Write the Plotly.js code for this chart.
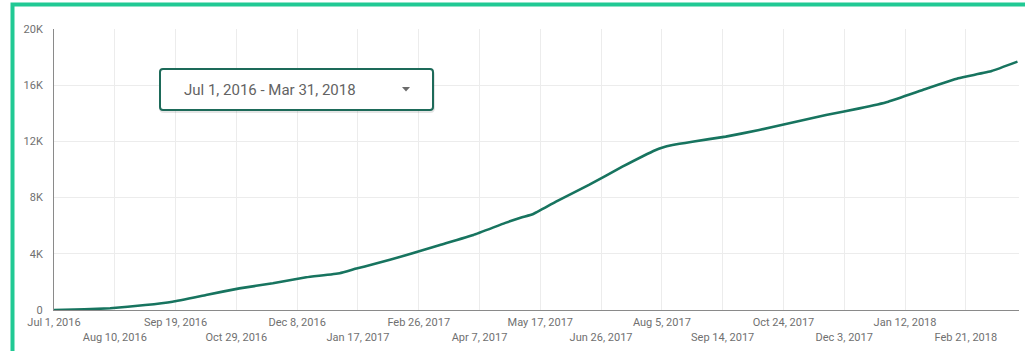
<!DOCTYPE html>
<html>
<head>
<meta charset="utf-8">
<script src="https://cdn.plot.ly/plotly-3.0.1.min.js"></script>
<style>
html,body{margin:0;padding:0;background:#fff;}
#chart{width:1025px;height:351px;}
</style>
</head>
<body>
<div id="chart"></div>
<script>
// ---- data ----
const dates = [
  '2016-07-01','2016-07-21','2016-08-07','2016-08-30','2016-09-17','2016-10-09','2016-10-31',
  '2016-11-22','2016-12-14','2017-01-05','2017-01-16','2017-01-27','2017-02-18','2017-03-12',
  '2017-04-03','2017-04-24','2017-05-05','2017-05-12','2017-05-27','2017-06-18','2017-07-10',
  '2017-08-01','2017-08-05','2017-08-12','2017-08-25','2017-09-16','2017-10-08','2017-10-30',
  '2017-11-21','2017-12-13','2018-01-01','2018-01-25','2018-02-16','2018-03-10','2018-03-27'
];
const users = [
  0, 50, 120, 350, 590, 1070, 1540,
  1900, 2330, 2620, 2950, 3250, 3910, 4630,
  5340, 6200, 6600, 6820, 7700, 8900, 10200,
  11390, 11550, 11740, 11980, 12340, 12810, 13340,
  13880, 14350, 14830, 15710, 16490, 17010, 17680
];
const xTickVals = [
  '2016-07-01','2016-08-10','2016-09-19','2016-10-29','2016-12-08','2017-01-17','2017-02-26',
  '2017-04-07','2017-05-17','2017-06-26','2017-08-05','2017-09-14','2017-10-24','2017-12-03',
  '2018-01-12','2018-02-21'
];
const xTickLabels = [
  'Jul 1, 2016','Aug 10, 2016','Sep 19, 2016','Oct 29, 2016','Dec 8, 2016','Jan 17, 2017','Feb 26, 2017',
  'Apr 7, 2017','May 17, 2017','Jun 26, 2017','Aug 5, 2017','Sep 14, 2017','Oct 24, 2017','Dec 3, 2017',
  'Jan 12, 2018','Feb 21, 2018'
];
const yTickVals = [0, 4000, 8000, 12000, 16000, 20000];
const yTickLabels = ['0','4K','8K','12K','16K','20K'];
const dateRangeLabel = 'Jul 1, 2016 - Mar 31, 2018';

// ---- layout helpers (pixel -> paper) ----
const W = 1025, H = 351;
const M = {l:54, r:6, t:29, b:41};
const PW = W - M.l - M.r, PH = H - M.t - M.b;
const px = x => (x - M.l) / PW;
const py = y => (H - M.b - y) / PH;

function roundRect(x0, y0, x1, y1, r) {
  const X = px, Y = py;
  return `M${X(x0+r)},${Y(y0)} L${X(x1-r)},${Y(y0)} Q${X(x1)},${Y(y0)} ${X(x1)},${Y(y0+r)} ` +
         `L${X(x1)},${Y(y1-r)} Q${X(x1)},${Y(y1)} ${X(x1-r)},${Y(y1)} ` +
         `L${X(x0+r)},${Y(y1)} Q${X(x0)},${Y(y1)} ${X(x0)},${Y(y1-r)} ` +
         `L${X(x0)},${Y(y0+r)} Q${X(x0)},${Y(y0)} ${X(x0+r)},${Y(y0)} Z`;
}

const trace = {
  x: dates, y: users, type: 'scatter', mode: 'lines',
  line: {color: '#17745f', width: 2.6, shape: 'spline', smoothing: 0.3},
  hoverinfo: 'x+y'
};

const tickFont = {family: 'Roboto, Arial, sans-serif', size: 11, color: '#707070'};

const layout = {
  width: W, height: H,
  margin: M,
  paper_bgcolor: '#fff', plot_bgcolor: '#fff',
  showlegend: false,
  font: {family: 'Roboto, Arial, sans-serif'},
  xaxis: {
    type: 'date',
    range: ['2016-07-01', '2018-03-28'],
    tickvals: xTickVals,
    ticktext: xTickLabels.map((t, i) => i % 2 ? '<br>' + t : t),
    tickfont: tickFont, tickangle: 0,
    showgrid: true, gridcolor: '#ececec', gridwidth: 1,
    showline: true, linecolor: '#8a8a8a', linewidth: 1,
    zeroline: false, ticks: '', ticklabelstandoff: 2,
    fixedrange: true
  },
  yaxis: {
    range: [0, 20000],
    tickvals: yTickVals,
    ticktext: yTickLabels,
    tickfont: tickFont,
    showgrid: true, gridcolor: '#ececec', gridwidth: 1,
    showline: true, linecolor: '#8a8a8a', linewidth: 1,
    zeroline: false, ticks: '', ticklabelstandoff: 8,
    fixedrange: true
  },
  shapes: [
    {type: 'rect', xref: 'paper', yref: 'paper', layer: 'above',
     x0: px(12.5), y0: py(H + 20), x1: px(W + 20), y1: py(4.5),
     line: {color: '#21c994', width: 4}, fillcolor: 'rgba(0,0,0,0)'},
    {type: 'path', xref: 'paper', yref: 'paper', layer: 'above',
     path: roundRect(159, 70, 435, 113, 5),
     fillcolor: 'rgba(0,0,0,0.10)', line: {width: 0}},
    {type: 'path', xref: 'paper', yref: 'paper', layer: 'above',
     path: roundRect(160, 69, 433, 110, 3),
     fillcolor: '#ffffff', line: {color: '#1d6a59', width: 2}},
    {type: 'path', xref: 'paper', yref: 'paper', layer: 'above',
     path: `M${px(402)},${py(87)} L${px(410)},${py(87)} L${px(406)},${py(91.5)} Z`,
     fillcolor: '#6b6b6b', line: {width: 0}}
  ],
  annotations: [
    {xref: 'paper', yref: 'paper', x: px(182), y: py(90), xanchor: 'left', yanchor: 'middle',
     text: dateRangeLabel, showarrow: false,
     font: {family: 'Roboto, Arial, sans-serif', size: 15, color: '#636363'}}
  ]
};

Plotly.newPlot('chart', [trace], layout, {displayModeBar: false, staticPlot: true});
</script>
</body>
</html>
